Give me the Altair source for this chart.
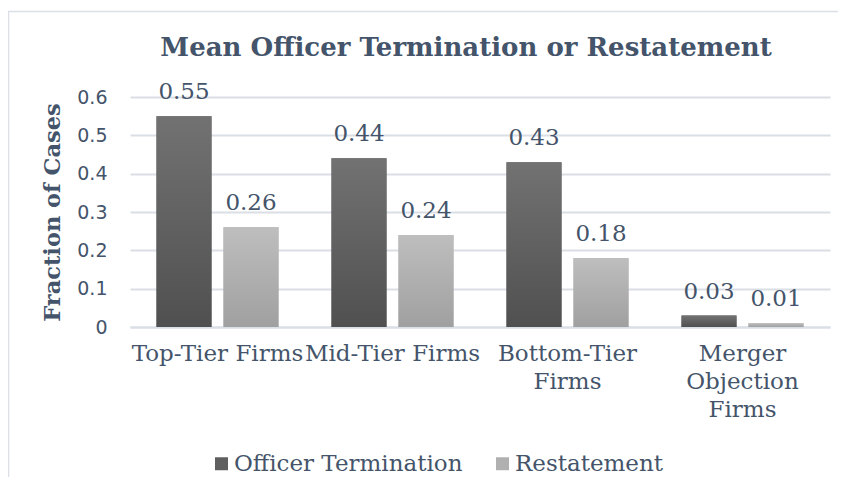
import altair as alt
import pandas as pd

categories = ["Top-Tier Firms", "Mid-Tier Firms", "Bottom-Tier Firms", "Merger Objection Firms"]
series = ["Officer Termination", "Restatement"]
officer_termination = [0.55, 0.44, 0.43, 0.03]
restatement = [0.26, 0.24, 0.18, 0.01]
y_ticks = [0, 0.1, 0.2, 0.3, 0.4, 0.5, 0.6]
title_text = "Mean Officer Termination or Restatement"
y_title = "Fraction of Cases"

rows = []
for c, v in zip(categories, officer_termination):
    rows.append({"category": c, "series": series[0], "value": v})
for c, v in zip(categories, restatement):
    rows.append({"category": c, "series": series[1], "value": v})
df = pd.DataFrame(rows)

TEXT = "#44546a"
GRID = "#dadee5"

label_expr = (
    "datum.value == 'Bottom-Tier Firms' ? ['Bottom-Tier', 'Firms'] : "
    "datum.value == 'Merger Objection Firms' ? ['Merger', 'Objection', 'Firms'] : datum.value"
)

x_enc = alt.X(
    "category:N",
    sort=categories,
    title=None,
    scale=alt.Scale(paddingInner=0, paddingOuter=0),
    axis=alt.Axis(
        labelAngle=0, ticks=False, labelFont="DejaVu Serif", labelFontSize=23,
        labelColor=TEXT, labelPadding=15, labelLineHeight=28, labelExpr=label_expr,
        labelLimit=400, labelOverlap=False, domainColor=GRID, domainWidth=2,
    ),
)
xo_enc = alt.XOffset("series:N", sort=series,
                     scale=alt.Scale(paddingInner=0.179, paddingOuter=0.3955))
y_enc = alt.Y(
    "value:Q",
    scale=alt.Scale(domain=[0, 0.6], nice=False),
    title=y_title,
    axis=alt.Axis(
        values=y_ticks, labelExpr="datum.value == 0 ? '0' : format(datum.value, '.1f')",
        ticks=False, domain=False, labelFont="DejaVu Sans", labelFontSize=19,
        labelColor=TEXT, labelPadding=23, gridColor=GRID, gridWidth=2,
        titleFont="DejaVu Serif", titleFontSize=22.5, titleFontWeight="bold",
        titleColor=TEXT, titlePadding=12,
    ),
)

base = alt.Chart(df)

bars = base.mark_bar().encode(
    x=x_enc, xOffset=xo_enc, y=y_enc,
    color=alt.Color(
        "series:N", sort=series,
        scale=alt.Scale(domain=series, range=["#5f5f5f", "#b0b0b0"]),
        legend=alt.Legend(
            orient="none", legendX=80, legendY=355, direction="horizontal", title=None,
            symbolType="square", symbolSize=169, symbolStrokeWidth=0, labelFont="DejaVu Serif",
            labelFontSize=23, labelColor=TEXT, labelOffset=1, columnPadding=28, padding=0,
            labelLimit=500,
        ),
    ),
)

dark_grad = alt.Gradient(
    gradient="linear", x1=0, y1=0, x2=0, y2=1,
    stops=[alt.GradientStop(color="#727272", offset=0), alt.GradientStop(color="#505050", offset=1)],
)
light_grad = alt.Gradient(
    gradient="linear", x1=0, y1=0, x2=0, y2=1,
    stops=[alt.GradientStop(color="#bebebe", offset=0), alt.GradientStop(color="#a0a0a0", offset=1)],
)

dark = base.mark_bar(color=dark_grad).encode(x=x_enc, xOffset=xo_enc, y=y_enc).transform_filter(
    alt.datum.series == series[0])
light = base.mark_bar(color=light_grad).encode(x=x_enc, xOffset=xo_enc, y=y_enc).transform_filter(
    alt.datum.series == series[1])

labels = base.mark_text(
    font="DejaVu Serif", fontSize=23, color=TEXT, baseline="alphabetic", dy=-17
).encode(x=x_enc, xOffset=xo_enc, y=y_enc, text=alt.Text("value:Q", format=".2f"))

frame = alt.Chart(pd.DataFrame({"f": [0]})).mark_rect(
    fill="transparent", stroke="#dcdfe5", strokeWidth=1.5
).encode(x=alt.value(-121.5), x2=alt.value(760), y=alt.value(-85.5), y2=alt.value(500))

chart = alt.layer(frame, bars, dark, light, labels).properties(
    width=700, height=230,
    title=alt.TitleParams(
        title_text, font="DejaVu Serif", fontSize=26, fontWeight="bold", color=TEXT,
        anchor="middle", frame="group", dx=-14, offset=-50,
    ),
    autosize=alt.AutoSizeParams(type="none"),
    padding={"left": 122, "top": 89, "right": 8, "bottom": 150},
).configure_view(stroke=None)

chart.save("out.html", embed_options={"renderer": "svg", "actions": False})
